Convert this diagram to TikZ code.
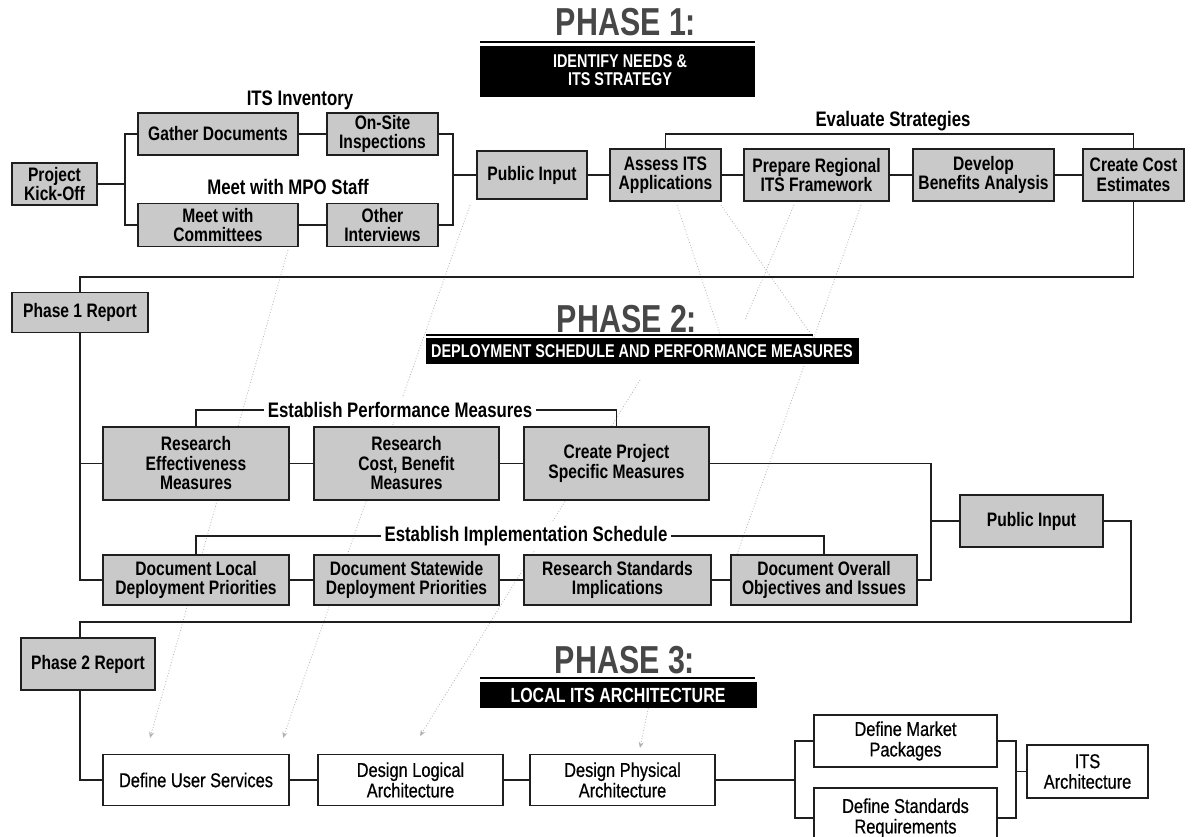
\documentclass[tikz,border=0pt]{standalone}
\usepackage{fontspec}
\setmainfont{Liberation Sans}
\newfontfamily\cf[FakeStretch=0.8]{Liberation Sans}
\newfontfamily\mf[FakeStretch=0.82,FakeBold=0.6]{Liberation Sans}
\newfontfamily\tf[FakeStretch=0.78]{Liberation Sans}
\usetikzlibrary{arrows.meta}
\begin{document}
\begin{tikzpicture}[x=1pt,y=-1pt,
  gbox/.style={draw=black!88,line width=1.6pt,fill=black!21,align=center,inner sep=0pt,font=\cf\bfseries\fontsize{19.5}{19.5}\selectfont},
  wbox/.style={draw=black!88,line width=1.3pt,fill=white,align=center,inner sep=0pt,font=\mf\fontsize{20}{20.5}\selectfont},
  lab/.style={font=\cf\bfseries\fontsize{21}{21}\selectfont,inner sep=4pt},
  conn/.style={draw=black!88,line width=1.6pt},
  thin/.style={draw=black!88,line width=1.2pt},
  faint/.style={draw=black!30,dotted,line width=0.8pt},
  ttl/.style={font=\tf\bfseries\fontsize{39}{39}\selectfont,text=black!72,anchor=base,inner sep=0pt},
  bartext/.style={text=white,font=\tf\bfseries\fontsize{18.5}{18}\selectfont,align=center,inner sep=0pt}]
\useasboundingbox (0,0) rectangle (1193,836);
\fill[white] (0,0) rectangle (1193,836);
\clip (0,0) rectangle (1193,836);

% ---------- faint dotted traces ----------
\draw[faint,-{Stealth[length=6pt,width=5pt]}] (288,250) -- (150,738);
\draw[faint,-{Stealth[length=6pt,width=5pt]}] (470,205) -- (283,738);
\draw[faint] (677,205) -- (722,340);
\draw[faint] (721,205) -- (822,350);
\draw[faint] (794,205) -- (745,320);
\draw[faint] (861,205) -- (735,560);
\draw[faint,-{Stealth[length=6pt,width=5pt]}] (640,380) -- (420,736);
\draw[faint,-{Stealth[length=6pt,width=5pt]}] (650,700) -- (640,748);

% ---------- PHASE 1 header ----------
\node[ttl] (t1) at (626,35) {PHASE 1:};
\draw[line width=2pt] (480,42) -- (755,42);
\fill[black] (480,46) rectangle (755,97);
\node[bartext] (b1) at (620,70) {IDENTIFY NEEDS \&\\ITS STRATEGY};

% ---------- Phase 1 boxes ----------
\node[gbox,minimum width=85pt,minimum height=42pt] (kick) at (54.5,184) {Project\\Kick-Off};
\node[gbox,minimum width=160pt,minimum height=42pt] (gather) at (218,134) {Gather Documents};
\node[gbox,minimum width=111pt,minimum height=42pt] (onsite) at (382.5,134) {On-Site\\Inspections};
\node[gbox,minimum width=160pt,minimum height=43pt] (comm) at (218,225) {Meet with\\Committees};
\node[gbox,minimum width=111pt,minimum height=43pt] (other) at (382.5,225) {Other\\Interviews};
\node[gbox,minimum width=110pt,minimum height=48pt] (pub1) at (532,175) {Public Input};
\node[gbox,minimum width=111pt,minimum height=52pt] (assess) at (665.5,175) {Assess ITS\\Applications};
\node[gbox,minimum width=145pt,minimum height=52pt] (prepare) at (816.5,175) {Prepare Regional\\ITS Framework};
\node[gbox,minimum width=141pt,minimum height=52pt] (develop) at (983.5,175) {Develop\\Benefits Analysis};
\node[gbox,minimum width=101pt,minimum height=52pt] (create) at (1133.5,175) {Create Cost\\Estimates};

\node[lab] (linv) at (300,100) {ITS Inventory};
\node[lab] (lmpo) at (288,187) {Meet with MPO Staff};

\draw[conn] (kick.east) -- (125,184);
\draw[conn] (gather.west) -| (125,225) -- (comm.west);
\draw[conn] (gather.east) -- (onsite.west);
\draw[conn] (comm.east) -- (other.west);
\draw[conn] (onsite.east) -| (453,225) -- (other.east);
\coordinate (jr) at (453,175);
\draw[conn] (jr) -- (pub1.west);
\draw[conn] (pub1.east) -- (assess.west);
\draw[conn] (assess.east) -- (prepare.west);
\draw[conn] (prepare.east) -- (develop.west);
\draw[conn] (develop.east) -- (create.west);
\draw[conn] (assess.north) -- ++(0,-14) -| (create.north);
\node[lab] (leval) at (893,121) {Evaluate Strategies};

% ---------- Phase 1 report ----------
\node[gbox,minimum width=136pt,minimum height=40pt] (p1rep) at (80,312.5) {Phase 1 Report};
\draw[conn] (create.south) |- (80,277) -- (p1rep.north);

% ---------- PHASE 2 header ----------
\node[ttl] (t2) at (627,332) {PHASE 2:};
\draw[line width=2pt] (426,335) -- (813,335);
\fill[black] (426,338) rectangle (859,364);
\node[bartext] (b2) at (642,351.5) {DEPLOYMENT SCHEDULE AND PERFORMANCE MEASURES};

% ---------- Phase 2 boxes ----------
\node[gbox,minimum width=186pt,minimum height=73pt] (reff) at (196,463.5) {Research\\Effectiveness\\Measures};
\node[gbox,minimum width=185pt,minimum height=73pt] (rcost) at (406.5,463.5) {Research\\Cost, Benefit\\Measures};
\node[gbox,minimum width=185pt,minimum height=73pt] (cproj) at (616.5,463.5) {Create Project\\Specific Measures};
\node[gbox,minimum width=143pt,minimum height=52pt] (pub2) at (1031.5,521) {Public Input};
\node[gbox,minimum width=186pt,minimum height=50pt] (dloc) at (196,580) {Document Local\\Deployment Priorities};
\node[gbox,minimum width=185pt,minimum height=50pt] (dstate) at (406.5,580) {Document Statewide\\Deployment Priorities};
\node[gbox,minimum width=187pt,minimum height=50pt] (rstd) at (617.5,580) {Research Standards\\Implications};
\node[gbox,minimum width=186pt,minimum height=50pt] (dover) at (824,580) {Document Overall\\Objectives and Issues};

\draw[conn] (p1rep.south) |- (dloc.west);
\draw[conn] (80,463.5) -- (reff.west);
\draw[conn] (reff.east) -- (rcost.west);
\draw[conn] (rcost.east) -- (cproj.west);
\draw[conn] (dloc.east) -- (dstate.west);
\draw[conn] (dstate.east) -- (rstd.west);
\draw[conn] (rstd.east) -- (dover.west);
\draw[conn] (cproj.east) -| (931,580) -- (dover.east);
\draw[conn] (931,521) -- (pub2.west);

\draw[conn] (reff.north) -- ++(0,-16) -| (cproj.north);
\node[lab,fill=white] (lperf) at (400,410) {Establish Performance Measures};
\draw[conn] (dloc.north) -- ++(0,-18) -| (dover.north);
\node[lab,fill=white] (limpl) at (526,536) {Establish Implementation Schedule};

% ---------- Phase 2 report ----------
\node[gbox,minimum width=134pt,minimum height=52pt] (p2rep) at (88,664) {Phase 2 Report};
\draw[conn] (pub2.east) -| (1131,622) -| ([xshift=-8pt]p2rep.north);

% ---------- PHASE 3 header ----------
\node[ttl] (t3) at (625,673) {PHASE 3:};
\draw[line width=2pt] (480,678) -- (755,678);
\fill[black] (480,682) rectangle (757,708);
\node[bartext,font=\tf\bfseries\fontsize{20.5}{20}\selectfont] (b3) at (618,695.5) {LOCAL ITS ARCHITECTURE};

% ---------- Phase 3 boxes ----------
\node[wbox,minimum width=186pt,minimum height=51pt] (dus) at (196,780) {Define User Services};
\node[wbox,minimum width=185pt,minimum height=51pt] (dlog) at (410.5,780) {Design Logical\\Architecture};
\node[wbox,minimum width=185pt,minimum height=51pt] (dphys) at (622.5,780) {Design Physical\\Architecture};
\node[wbox,minimum width=183pt,minimum height=52pt] (dmkt) at (905.5,741) {Define Market\\Packages};
\node[wbox,minimum width=183pt,minimum height=60pt] (dstd) at (905.5,818) {Define Standards\\Requirements};
\node[wbox,minimum width=121pt,minimum height=53pt] (itsa) at (1087.5,771.5) {ITS\\Architecture};

\draw[conn] ([xshift=-8pt]p2rep.south) |- (dus.west);
\draw[thin] (dus.east) -- (dlog.west);
\draw[thin] (dlog.east) -- (dphys.west);
\draw[thin] (dphys.east) -- (795,780);
\draw[thin] (dmkt.west) -| (795,818) -- (dstd.west);
\draw[thin] (dmkt.east) -| (1016,818) -- (dstd.east);
\draw[thin] (1016,771.5) -- (itsa.west);
\end{tikzpicture}
\end{document}
